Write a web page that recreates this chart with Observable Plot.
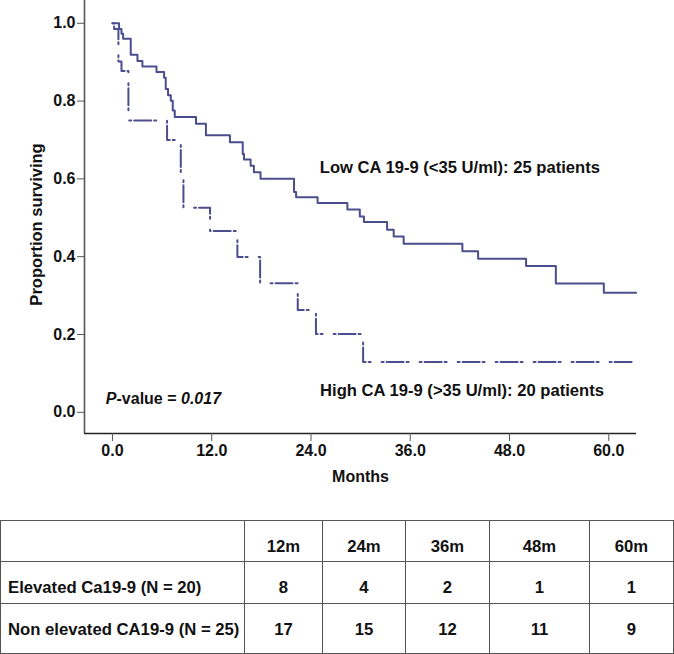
<!DOCTYPE html>
<html><head><meta charset="utf-8">
<script src="https://cdn.jsdelivr.net/npm/d3@7"></script>
<script src="https://cdn.jsdelivr.net/npm/@observablehq/plot@0.6"></script>
<style>
body{margin:0;background:#fff;width:674px;height:654px;position:relative;overflow:hidden;font-family:"Liberation Sans",Arial,sans-serif;}
#chart{position:absolute;left:0;top:0;}
#chart svg g[aria-label$="tick label"] text{font-size:16px !important;font-weight:bold;}
#tbl{position:absolute;left:0;top:520px;}
table{border-collapse:collapse;font-weight:bold;font-size:16.7px;line-height:19px;color:#111;table-layout:fixed;}
td{border:1.5px solid #555;text-align:center;vertical-align:top;padding:16px 0 0 0;box-sizing:border-box;}
td.lab{text-align:left;padding-left:7px;}
</style></head><body>
<div id="chart"></div><div id="tbl"></div>
<script>
// Kaplan-Meier steps (months, proportion surviving)
const lowMonths = [0, 0.8, 1.09, 1.29, 2.21, 3.02, 3.62, 5.32, 6.24, 6.44, 6.72, 7.05, 7.29, 7.53, 10.1, 11.3, 14.2, 15.75, 15.9, 16.7, 17.1, 17.9, 21.95, 22.2, 24.8, 28.4, 29.9, 30.4, 33.2, 34.0, 35.2, 42.3, 44.2, 50.0, 53.6, 59.4, 63.3];
const lowSurv   = [1.0, 0.985, 0.973, 0.96, 0.919, 0.903, 0.889, 0.875, 0.86, 0.831, 0.815, 0.801, 0.776, 0.759, 0.742, 0.712, 0.694, 0.664, 0.65, 0.634, 0.617, 0.600, 0.566, 0.553, 0.538, 0.521, 0.503, 0.489, 0.469, 0.452, 0.433, 0.414, 0.395, 0.376, 0.331, 0.307, 0.307];
const highMonths = [0, 0.2, 0.72, 1.09, 1.93, 6.6, 8.26, 8.58, 11.8, 15.1, 17.85, 22.4, 24.6, 30.3, 63.1];
const highSurv   = [1.0, 0.985, 0.902, 0.877, 0.75, 0.70, 0.60, 0.526, 0.466, 0.399, 0.332, 0.263, 0.201, 0.129, 0.129];
const xTicks = [0, 12, 24, 36, 48, 60];
const yTicks = [0, 0.2, 0.4, 0.6, 0.8, 1.0];
const lowLabel = "Low CA 19-9 (<35 U/ml): 25 patients";
const highLabel = "High CA 19-9 (>35 U/ml): 20 patients";
const pLabel = "P-value = 0.017";
const xLabel = "Months";
const yLabel = "Proportion surviving";
const tableCols = ["12m", "24m", "36m", "48m", "60m"];
const rowNames = ["Elevated Ca19-9 (N = 20)", "Non elevated CA19-9 (N = 25)"];
const elevatedAtRisk = [8, 4, 2, 1, 1];
const nonElevatedAtRisk = [17, 15, 12, 11, 9];

const low = lowMonths.map((t, i) => ({t, s: lowSurv[i]}));
const high = highMonths.map((t, i) => ({t, s: highSurv[i]}));
const xmin = -3.38, xmax = 63.35, ymin = -0.0545, ymax = 1.0585;
const col = "#4c4d8c";
const font = "'Liberation Sans', Arial, sans-serif";

const plot = Plot.plot({
  width: 674, height: 500,
  marginLeft: 84, marginRight: 38, marginTop: 0, marginBottom: 67,
  x: {domain: [xmin, xmax]},
  y: {domain: [ymin, ymax]},
  style: {fontFamily: font, fontSize: "16px", fontWeight: "bold", color: "#111", background: "white"},
  marks: [
    Plot.ruleX([xmin], {stroke: "#555", strokeWidth: 1.6}),
    Plot.ruleY([ymin], {stroke: "#222", strokeWidth: 1.4}),
    Plot.axisY({ticks: yTicks, tickFormat: d3.format(".1f"), tickSize: 7, tickPadding: 2, label: null, stroke: "#555", fontSize: 16, fontWeight: "bold"}),
    Plot.axisX({ticks: xTicks, tickFormat: d3.format(".1f"), tickSize: 8, tickPadding: 3, label: null, stroke: "#555", fontSize: 16, fontWeight: "bold"}),
    Plot.text([yLabel], {frameAnchor: "left", textAnchor: "middle", rotate: -90, dx: -48, dy: 7.5, fontSize: 16.5, fontWeight: "bold"}),
    Plot.text([xLabel], {frameAnchor: "bottom", dy: 48, fontSize: 16, fontWeight: "bold"}),
    Plot.line(high, {x: "t", y: "s", curve: "step-after", stroke: col, strokeWidth: 2, strokeDasharray: "2,3,17,3,2,11"}),
    Plot.line(low, {x: "t", y: "s", curve: "step-after", stroke: col, strokeWidth: 2}),
    Plot.text([lowLabel], {x: () => 25.06, y: () => 0.630, textAnchor: "start", fontSize: 16.6, fontWeight: "bold"}),
    Plot.text([highLabel], {x: () => 25.1, y: () => 0.0565, textAnchor: "start", fontSize: 16.6, fontWeight: "bold"}),
    Plot.text([pLabel], {x: () => -0.8, y: () => 0.034, textAnchor: "start", fontSize: 16, fontWeight: "bold"})
  ]
});
document.getElementById("chart").appendChild(plot);

// italic parts of the P-value label
d3.select(plot).selectAll("text").each(function() {
  if (this.textContent === pLabel) {
    const t = d3.select(this); t.text(null);
    t.append("tspan").attr("font-style", "italic").text("P");
    t.append("tspan").text("-value = ");
    t.append("tspan").attr("font-style", "italic").text("0.017");
  }
});

// at-risk table
const widths = [244, 78, 83, 84, 100, 84];
const heights = [41, 42, 50];
const table = d3.select("#tbl").append("table").style("width", "674px");
const cg = table.append("colgroup");
widths.forEach(w => cg.append("col").style("width", w + "px"));
const hr = table.append("tr").style("height", heights[0] + "px");
hr.append("td").attr("class", "lab").text("");
tableCols.forEach(c => hr.append("td").text(c));
[elevatedAtRisk, nonElevatedAtRisk].forEach((vals, i) => {
  const r = table.append("tr").style("height", heights[i + 1] + "px");
  r.append("td").attr("class", "lab").text(rowNames[i]);
  vals.forEach(v => r.append("td").text(v));
});
</script>
</body></html>
